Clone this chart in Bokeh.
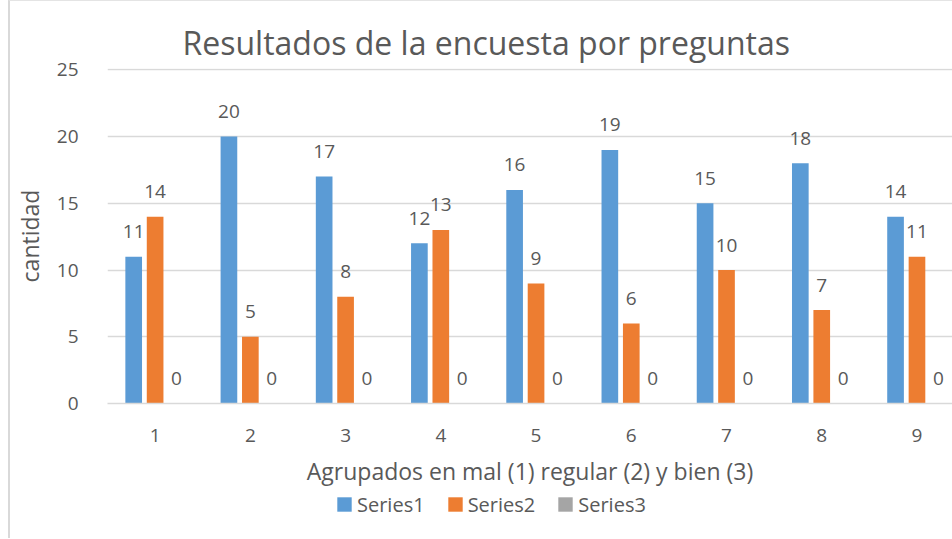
from bokeh.plotting import figure
from bokeh.layouts import column
from bokeh.models import (ColumnDataSource, Range1d, FixedTicker, LabelSet,
                          Legend, LegendItem)
from bokeh.core.properties import value
from bokeh.transform import dodge
from bokeh.embed import file_html
from bokeh.resources import INLINE

# ---- data ----
categories = [1, 2, 3, 4, 5, 6, 7, 8, 9]
series1 = [11, 20, 17, 12, 16, 19, 15, 18, 14]
series2 = [14, 5, 8, 13, 9, 6, 10, 7, 11]
series3 = [0, 0, 0, 0, 0, 0, 0, 0, 0]
series_names = ["Series1", "Series2", "Series3"]
y_ticks = [0, 5, 10, 15, 20, 25]
title_text = "Resultados de la encuesta por preguntas"
x_title = "Agrupados en mal (1) regular (2) y bien (3)"
y_title = "cantidad"

# ---- style ----
COLORS = ["#5B9BD5", "#ED7D31", "#A5A5A5"]
TEXT = "#595959"
GRID = "#D9D9D9"
FONT = "Open Sans"
OFFSETS = [-0.225, 0.0, 0.225]
BAR_W = 0.175

src = ColumnDataSource(dict(
    x=categories,
    s1=series1, s2=series2, s3=series3,
    l1=[str(v) for v in series1],
    l2=[str(v) for v in series2],
    l3=[str(v) for v in series3],
))

p = figure(width=942, height=492,
           x_range=Range1d(0.5, 9.373), y_range=Range1d(0, 25.1),
           min_border_left=92, min_border_right=0,
           min_border_top=67, min_border_bottom=90,
           output_backend="svg", toolbar_location=None)
p.outline_line_color = None
p.background_fill_color = "white"
p.border_fill_color = "white"

# title
p.title.text = title_text
p.title.align = "left"
p.title.offset = 75
p.title.text_font_size = "32px"
p.title.text_font = FONT
p.title.text_font_style = "normal"
p.title.text_color = TEXT
p.title.standoff = 10

for i, (col, lab) in enumerate([("s1", "l1"), ("s2", "l2"), ("s3", "l3")]):
    p.vbar(x=dodge("x", OFFSETS[i]), top=col, width=BAR_W, source=src,
           fill_color=COLORS[i], line_color=None)
    ls = LabelSet(x=dodge("x", OFFSETS[i]), y=col, text=lab, source=src,
                  y_offset=25, text_align="center", text_baseline="middle",
                  text_font_size=value("19px"), text_color=value(TEXT),
                  text_font=value(FONT))
    p.add_layout(ls)

# grid & axes
p.xgrid.visible = False
p.ygrid.grid_line_color = GRID
p.ygrid.grid_line_width = 1.5
p.ygrid.ticker = FixedTicker(ticks=y_ticks)

p.yaxis.ticker = FixedTicker(ticks=y_ticks)
p.yaxis.axis_line_color = None
p.yaxis.major_tick_line_color = None
p.yaxis.minor_tick_line_color = None
p.yaxis.major_label_text_font_size = "19px"
p.yaxis.major_label_text_color = TEXT
p.yaxis.major_label_text_font = FONT
p.yaxis.major_label_standoff = 23
p.yaxis.axis_label = y_title
p.yaxis.axis_label_text_font_size = "23px"
p.yaxis.axis_label_text_font = FONT
p.yaxis.axis_label_text_font_style = "normal"
p.yaxis.axis_label_text_color = TEXT
p.yaxis.axis_label_standoff = 8

p.xaxis.ticker = FixedTicker(ticks=categories)
p.xaxis.axis_line_color = GRID
p.xaxis.axis_line_width = 1.5
p.xaxis.major_tick_line_color = None
p.xaxis.minor_tick_line_color = None
p.xaxis.major_label_text_font_size = "19px"
p.xaxis.major_label_text_color = TEXT
p.xaxis.major_label_text_font = FONT
p.xaxis.major_label_standoff = 19
p.xaxis.axis_label = x_title
p.xaxis.axis_label_text_font_size = "23px"
p.xaxis.axis_label_text_font = FONT
p.xaxis.axis_label_text_font_style = "normal"
p.xaxis.axis_label_text_color = TEXT
p.xaxis.axis_label_standoff = 10

# legend strip (separate figure so it is not clipped by the chart frame)
pl = figure(width=942, height=45, x_range=Range1d(0, 942), y_range=Range1d(0, 45),
            title=None, x_axis_location=None, y_axis_location=None,
            min_border_left=0, min_border_right=0, min_border_top=0, min_border_bottom=0,
            output_backend="svg", toolbar_location=None)
pl.grid.visible = False
pl.outline_line_color = None
pl.background_fill_color = "white"
pl.border_fill_color = "white"
# legend-only swatch renderers (zero-height, outside the visible range)
dummies = [pl.vbar(x=[-100], top=[0], width=1, fill_color=c, line_color=None) for c in COLORS]

legend = Legend(items=[LegendItem(label=n, renderers=[r]) for n, r in zip(series_names, dummies)],
                orientation="horizontal", location=(228, 20),
                padding=0, margin=0, spacing=21, label_standoff=4,
                glyph_width=18, glyph_height=18, label_height=28,
                label_text_font_size="20px", label_text_color=TEXT, label_text_font=FONT,
                border_line_color=None, background_fill_alpha=0)
pl.add_layout(legend)

layout = column(p, pl, spacing=0)
layout.styles = {"margin-left": "8px", "border-left": "2px solid #D9D9D9",
                 "border-top": "1px solid #E4E4E4"}

open("out.html", "w").write(file_html(layout, INLINE))
